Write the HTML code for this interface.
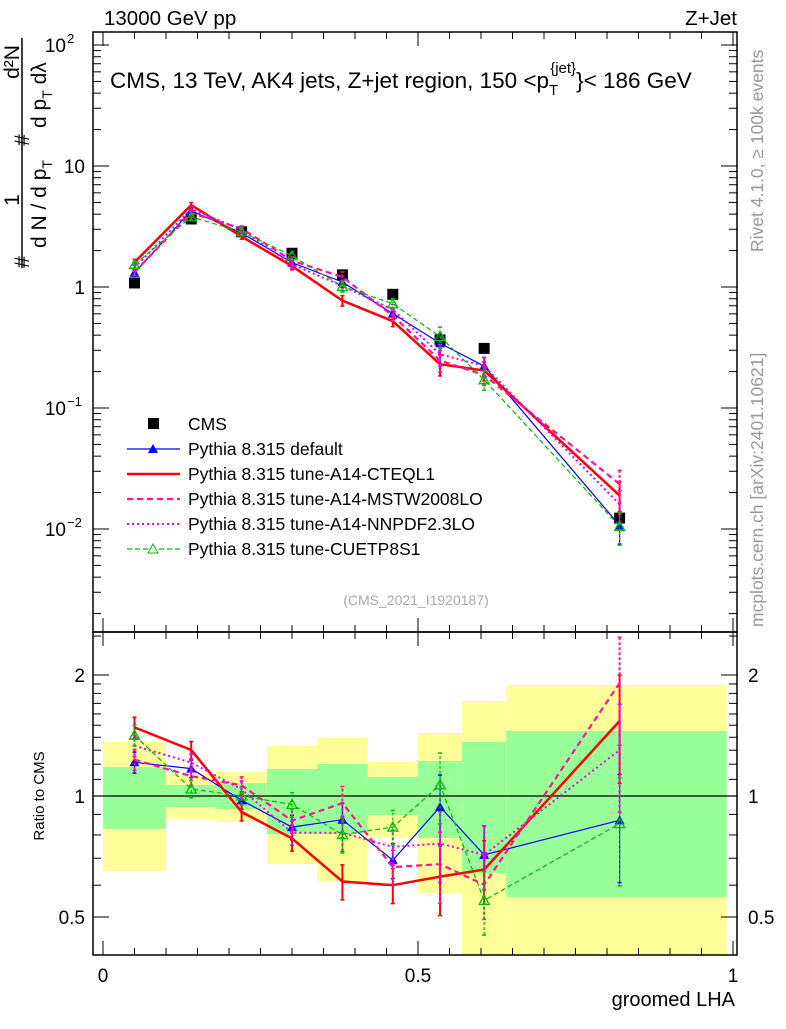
<!DOCTYPE html>
<html><head><meta charset="utf-8"><style>
body{margin:0;background:#fff}
svg{font-family:"Liberation Sans",sans-serif}
</style></head><body>
<svg id="c" width="786" height="1024" xmlns="http://www.w3.org/2000/svg"></svg>
<script>
const binEdges=[0,0.1,0.18,0.26,0.34,0.42,0.5,0.57,0.64,0.99];
const xCenters=[0.05,0.14,0.22,0.30,0.38,0.46,0.535,0.605,0.82];
const cmsData=[1.08,3.65,2.86,1.9,1.26,0.87,0.365,0.311,0.0123];
const pyDefault=[1.31,4.27,2.79,1.59,1.10,0.602,0.343,0.222,0.0107];
const pyCTEQ=[1.60,4.75,2.61,1.49,0.772,0.522,0.230,0.204,0.0189];
const pyMSTW=[1.33,4.09,3.04,1.65,1.21,0.579,0.247,0.187,0.0235];
const pyNNPDF=[1.44,4.42,2.97,1.54,1.02,0.650,0.278,0.222,0.0160];
const pyCUETP=[1.53,3.80,2.86,1.81,1.01,0.728,0.389,0.171,0.0105];
const mcRelErr=[0.06,0.05,0.05,0.07,0.1,0.1,0.2,0.18,0.3];
const bandYellowHi=[1.363,1.134,1.147,1.332,1.394,1.215,1.435,1.723,1.889];
const bandYellowLo=[0.651,0.877,0.862,0.677,0.615,0.79,0.574,0.3,0.3];
const bandGreenHi=[1.18,1.065,1.077,1.167,1.201,1.115,1.222,1.363,1.451];
const bandGreenLo=[0.828,0.939,0.928,0.804,0.804,0.897,0.786,0.643,0.56];

const svg=document.getElementById('c');
const NS='http://www.w3.org/2000/svg';
const L=93,R=737,T=32,M=632,B=955;
const X=v=>103+v*630;
const Ym=v=>287-121*Math.log10(v);
const Yr=v=>796-121*Math.log2(v);
function el(tag,attrs,parent){const e=document.createElementNS(NS,tag);for(const k in attrs)e.setAttribute(k,attrs[k]);(parent||svg).appendChild(e);return e;}
function txt(s,x,y,attrs,parent){const e=el('text',Object.assign({x:x,y:y,'font-size':18},attrs||{}),parent);e.textContent=s;return e;}
const clipD=el('defs',{});
const cp1=el('clipPath',{id:'cm'},clipD);el('rect',{x:L,y:T,width:R-L,height:M-T},cp1);
const cp2=el('clipPath',{id:'cr'},clipD);el('rect',{x:L,y:M,width:R-L,height:B-M},cp2);

const gb=el('g',{'clip-path':'url(#cr)'});

for(let i=0;i<9;i++){
  const x0=X(binEdges[i]),x1=X(binEdges[i+1]);
  const y=el('rect',{x:x0,y:Yr(bandYellowHi[i]),width:x1-x0,height:Yr(bandYellowLo[i])-Yr(bandYellowHi[i]),fill:'#ffff99'},gb);
  
  const g=el('rect',{x:x0,y:Yr(bandGreenHi[i]),width:x1-x0,height:Yr(bandGreenLo[i])-Yr(bandGreenHi[i]),fill:'#99ff99'},gb);
  
}
el('line',{x1:L,x2:R,y1:Yr(1),y2:Yr(1),stroke:'#000','stroke-width':1.2});

const series=[
 {name:'Pythia 8.315 default',v:pyDefault,c:'#0000ff',w:1.2,d:'',m:'tri'},
 {name:'Pythia 8.315 tune-A14-CTEQL1',v:pyCTEQ,c:'#ff0000',w:2.5,d:'',m:''},
 {name:'Pythia 8.315 tune-A14-MSTW2008LO',v:pyMSTW,c:'#ff1493',w:2.2,d:'6,4',m:''},
 {name:'Pythia 8.315 tune-A14-NNPDF2.3LO',v:pyNNPDF,c:'#ee00ee',w:2,d:'2,3',m:''},
 {name:'Pythia 8.315 tune-CUETP8S1',v:pyCUETP,c:'#00bb00',w:1.2,d:'5,3',m:'otri'}
];
function drawSeries(s,fy,ratio,clip){
  const g=el('g',{'clip-path':clip});
  
  
  const vals=s.v.map((v,i)=>ratio?v/cmsData[i]:v);
  el('polyline',{points:vals.map((v,i)=>X(xCenters[i])+','+fy(v)).join(' '),fill:'none',stroke:s.c,'stroke-width':s.w,'stroke-dasharray':s.d},g);
  vals.forEach((v,i)=>{
    const x=X(xCenters[i]),lo=fy(v*(1-mcRelErr[i])),hi=fy(v*(1+mcRelErr[i]));
    el('line',{x1:x,x2:x,y1:lo,y2:hi,stroke:s.c,'stroke-width':Math.min(s.w,2),'stroke-dasharray':s.d?'3,2':''},g);
    el('line',{x1:x-2,x2:x+2,y1:lo,y2:lo,stroke:s.c,'stroke-width':1.5},g);
    el('line',{x1:x-2,x2:x+2,y1:hi,y2:hi,stroke:s.c,'stroke-width':1.5},g);
    const y=fy(v);
    if(s.m==='tri')el('polygon',{points:`${x-5},${y+4} ${x+5},${y+4} ${x},${y-5}`,fill:s.c},g);
    if(s.m==='otri')el('polygon',{points:`${x-5},${y+4} ${x+5},${y+4} ${x},${y-5}`,fill:'none',stroke:s.c,'stroke-width':1.3},g);
  });
}
const gd=el('g',{'clip-path':'url(#cm)'});

cmsData.forEach((v,i)=>{el('rect',{x:X(xCenters[i])-5.5,y:Ym(v)-5.5,width:11,height:11,fill:'#000'},gd);});
series.forEach(s=>drawSeries(s,Ym,false,'url(#cm)'));
series.forEach(s=>drawSeries(s,Yr,true,'url(#cr)'));

el('rect',{x:L,y:T,width:R-L,height:M-T,fill:'none',stroke:'#000','stroke-width':1.5});
el('rect',{x:L,y:M,width:R-L,height:B-M,fill:'none',stroke:'#000','stroke-width':1.5});
for(let k=0;k<=20;k++){const v=k*0.05,x=X(v),maj=k%10===0,len=maj?14:7;
  [[T,1],[M,-1],[M,1],[B,-1]].forEach(([y,d])=>el('line',{x1:x,x2:x,y1:y,y2:y+d*len,stroke:'#000','stroke-width':1}));}
[[0,'0'],[0.5,'0.5'],[1,'1']].forEach(([v,s])=>txt(s,X(v),982,{'text-anchor':'middle','font-size':19}));
for(let e=-3;e<=2;e++)for(let m=1;m<10;m++){const v=m*Math.pow(10,e),y=Ym(v);if(y<T||y>M)continue;const len=m===1?16:8;
  el('line',{x1:L,x2:L+len,y1:y,y2:y,stroke:'#000'});el('line',{x1:R,x2:R-len,y1:y,y2:y,stroke:'#000'});}
const ytl=[[100,'10','2'],[10,'10',''],[1,'1',''],[0.1,'10','−1'],[0.01,'10','−2']];
ytl.forEach(([v,b,s])=>{txt(b,s?66:85,Ym(v)+7,{'text-anchor':'end','font-size':19});
  if(s)txt(s,67,Ym(v)-2,{'font-size':13});});
[0.4,0.5,0.6,0.7,0.8,0.9,1,1.1,1.2,1.3,1.4,1.5,1.6,1.7,1.8,1.9,2,2.5].forEach(v=>{const y=Yr(v);if(y<M||y>B)return;const len=(v===0.5||v===1||v===2)?16:8;
  el('line',{x1:L,x2:L+len,y1:y,y2:y,stroke:'#000'});el('line',{x1:R,x2:R-len,y1:y,y2:y,stroke:'#000'});});
[[2,'2'],[1,'1'],[0.5,'0.5']].forEach(([v,s])=>{txt(s,85,Yr(v)+7,{'text-anchor':'end','font-size':19});txt(s,748,Yr(v)+7,{'font-size':19});});

const t1=txt('13000 GeV pp',104,25,{'font-size':20.5});
const t2=txt('Z+Jet',737,25,{'font-size':20.5,'text-anchor':'end'});
const ti=el('text',{x:110,y:88,'font-size':22.5});
ti.innerHTML='CMS, 13 TeV, AK4 jets, Z+jet region, 150 &lt;p<tspan dy="7" font-size="15">T</tspan><tspan dy="-22" dx="-8" font-size="15">{jet}</tspan><tspan dy="15">}&lt; 186 GeV</tspan>';
const xl=txt('groomed LHA',735,1006,{'font-size':20,'text-anchor':'end'});
const rl=txt('Ratio to CMS',44,796,{'font-size':15,'text-anchor':'middle',transform:'rotate(-90 44 796)'});

// y-axis title (rotated fraction)
const yg=el('g',{'font-size':21});
el('line',{x1:22,x2:22,y1:38,y2:268,stroke:'#000','stroke-width':1.5},yg);
txt('1',19,200,{'font-size':21,'text-anchor':'middle',transform:'rotate(-90 19 200)'},yg);
txt('d²N',19,62,{'font-size':21,'text-anchor':'middle',transform:'rotate(-90 19 62)'},yg);
const dA=el('text',{x:0,y:0,'font-size':21,transform:'translate(46,248) rotate(-90)'},yg);
dA.innerHTML='d N / d p<tspan dy="6" font-size="14">T</tspan>';
const dB=el('text',{x:0,y:0,'font-size':21,transform:'translate(46,128) rotate(-90)'},yg);
dB.innerHTML='d p<tspan dy="6" font-size="14">T</tspan><tspan dy="-6"> dλ</tspan>';
txt('#',29,262,{'font-size':21,'text-anchor':'middle',transform:'rotate(-90 29 262)'},yg);
txt('#',29,140,{'font-size':21,'text-anchor':'middle',transform:'rotate(-90 29 140)'},yg);

const rv=txt('Rivet 4.1.0, ≥ 100k events',763,252,{'font-size':17.5,fill:'#999',transform:'rotate(-90 763 252)'});
const mc=txt('mcplots.cern.ch [arXiv:2401.10621]',763,627,{'font-size':17.5,fill:'#999',transform:'rotate(-90 763 627)'});
const an=txt('(CMS_2021_I1920187)',416,605,{'font-size':14,fill:'#aaa','text-anchor':'middle'});

const lg=el('g',{});
const ly0=424;
el('rect',{x:148,y:ly0-6,width:11,height:11,fill:'#000'},lg);
txt('CMS',188,ly0+6,{'font-size':17.5},lg);
series.forEach((s,i)=>{const y=ly0+25*(i+1);
  el('line',{x1:127,x2:180,y1:y,y2:y,stroke:s.c,'stroke-width':s.w,'stroke-dasharray':s.d},lg);
  if(s.m==='tri')el('polygon',{points:`148,${y+4} 158,${y+4} 153,${y-5}`,fill:s.c},lg);
  if(s.m==='otri')el('polygon',{points:`148,${y+4} 158,${y+4} 153,${y-5}`,fill:'#fff',stroke:s.c},lg);
  const t=txt(s.name,188,y+6,{'font-size':17.5},lg);
  
});
</script>
</body></html>
